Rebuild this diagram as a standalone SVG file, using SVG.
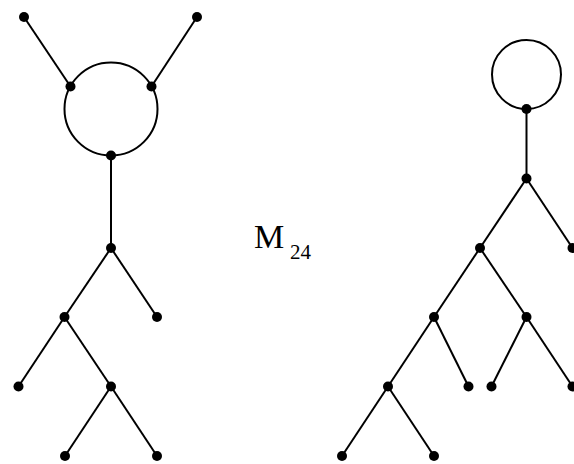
<svg xmlns="http://www.w3.org/2000/svg" width="574" height="464" viewBox="0 0 574 464">
<style>
.e{stroke:#000;stroke-width:2;fill:none}
.v{fill:#000}
.t{font-family:"Liberation Serif",serif;fill:#000}
</style>
<rect width="574" height="464" fill="#fff"/>
<g id="connectors">
<circle class="e" cx="111" cy="109" r="46.5"/>
<line class="e" x1="24" y1="17" x2="70.5" y2="86.5"/>
<line class="e" x1="197" y1="17" x2="151.5" y2="86.5"/>
<line class="e" x1="111" y1="156" x2="111" y2="248"/>
<line class="e" x1="111" y1="248" x2="64.5" y2="317"/>
<line class="e" x1="111" y1="248" x2="157" y2="317"/>
<line class="e" x1="64.5" y1="317" x2="18.5" y2="386.5"/>
<line class="e" x1="64.5" y1="317" x2="111" y2="386.5"/>
<line class="e" x1="111" y1="386.5" x2="65" y2="456"/>
<line class="e" x1="111" y1="386.5" x2="157" y2="456"/>
<circle class="e" cx="526.5" cy="74.5" r="34.5"/>
<line class="e" x1="526.5" y1="109" x2="526.5" y2="178.5"/>
<line class="e" x1="526.5" y1="178.5" x2="480" y2="248"/>
<line class="e" x1="526.5" y1="178.5" x2="572.5" y2="248"/>
<line class="e" x1="480" y1="248" x2="434" y2="317"/>
<line class="e" x1="480" y1="248" x2="526.5" y2="317"/>
<line class="e" x1="434" y1="317" x2="388" y2="386.5"/>
<line class="e" x1="434" y1="317" x2="468.5" y2="386.5"/>
<line class="e" x1="526.5" y1="317" x2="491.5" y2="386.5"/>
<line class="e" x1="526.5" y1="317" x2="572.5" y2="386.5"/>
<line class="e" x1="388" y1="386.5" x2="342" y2="456"/>
<line class="e" x1="388" y1="386.5" x2="434" y2="456"/>
</g>
<g id="n1"><circle class="v" cx="24" cy="17" r="5"/></g>
<g id="n2"><circle class="v" cx="197" cy="17" r="5"/></g>
<g id="n3"><circle class="v" cx="70.5" cy="86.5" r="5"/></g>
<g id="n4"><circle class="v" cx="151.5" cy="86.5" r="5"/></g>
<g id="n5"><circle class="v" cx="111" cy="155.5" r="5"/></g>
<g id="n6"><circle class="v" cx="111" cy="248" r="5"/></g>
<g id="n7"><circle class="v" cx="64.5" cy="317" r="5"/></g>
<g id="n8"><circle class="v" cx="157" cy="317" r="5"/></g>
<g id="n9"><circle class="v" cx="18.5" cy="386.5" r="5"/></g>
<g id="n10"><circle class="v" cx="111" cy="386.5" r="5"/></g>
<g id="n11"><circle class="v" cx="65" cy="456" r="5"/></g>
<g id="n12"><circle class="v" cx="157" cy="456" r="5"/></g>
<g id="r1"><circle class="v" cx="526.5" cy="109" r="5"/></g>
<g id="r2"><circle class="v" cx="526.5" cy="178.5" r="5"/></g>
<g id="r3"><circle class="v" cx="480" cy="248" r="5"/></g>
<g id="r4"><circle class="v" cx="572.5" cy="248" r="5"/></g>
<g id="r5"><circle class="v" cx="434" cy="317" r="5"/></g>
<g id="r6"><circle class="v" cx="526.5" cy="317" r="5"/></g>
<g id="r7"><circle class="v" cx="388" cy="386.5" r="5"/></g>
<g id="r8"><circle class="v" cx="468.5" cy="386.5" r="5"/></g>
<g id="r9"><circle class="v" cx="491.5" cy="386.5" r="5"/></g>
<g id="r10"><circle class="v" cx="572.5" cy="386.5" r="5"/></g>
<g id="r11"><circle class="v" cx="342" cy="456" r="5"/></g>
<g id="r12"><circle class="v" cx="434" cy="456" r="5"/></g>
<g id="label"><text class="t" x="254" y="248" font-size="34">M<tspan x="290" y="259" font-size="21">24</tspan></text></g>
</svg>
